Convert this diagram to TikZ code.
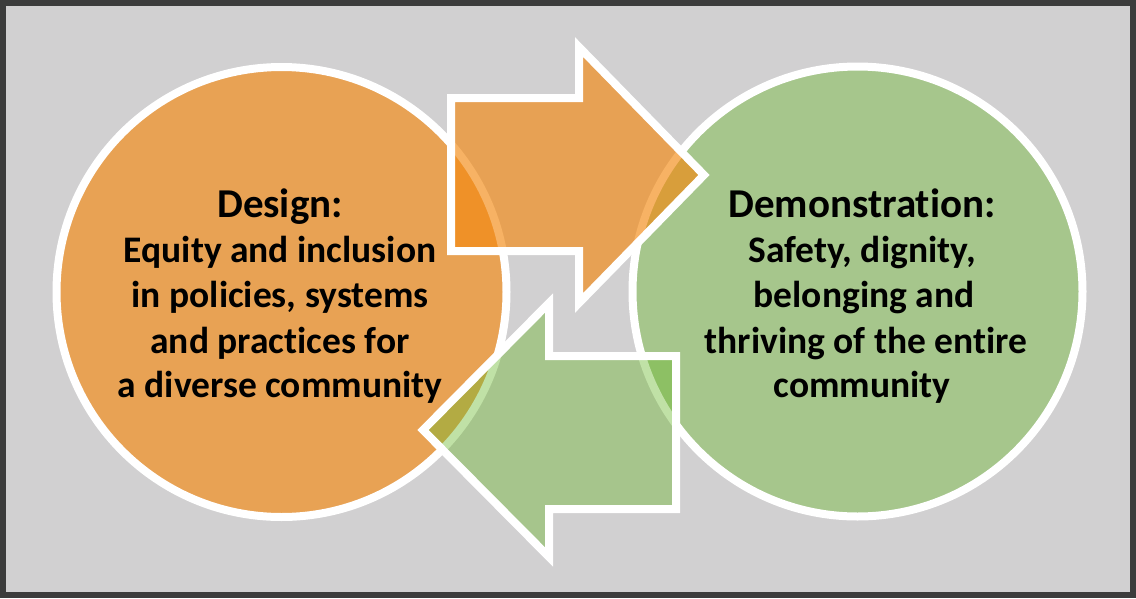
\documentclass[tikz,border=0pt]{standalone}
\usepackage{fontspec}
\setmainfont{Carlito}[Ligatures=NoCommon]
\definecolor{frameC}{HTML}{3C3C3C}
\definecolor{bgC}{HTML}{D1D0D1}
\definecolor{orangeC}{HTML}{E8A254}
\definecolor{greenC}{HTML}{A6C68C}
\definecolor{orangeA}{HTML}{F48911}
\definecolor{greenA}{HTML}{6BB82D}
\begin{document}
\begin{tikzpicture}[x=1pt,y=-1pt,
  ring/.style={circle, draw=white, line width=8pt, minimum size=450pt, inner sep=0pt},
  arrowshape/.style={draw=white, line width=8pt, line join=miter, miter limit=20},
  titletext/.style={anchor=base, font=\bfseries\fontsize{41}{44}\selectfont, inner sep=0pt},
  bodytext/.style={anchor=base, font=\bfseries\fontsize{37.5}{40}\selectfont, inner sep=0pt}]
\useasboundingbox (0,0) rectangle (1136,598);
\fill[frameC] (0,0) rectangle (1136,598);
\fill[bgC] (6,6) rectangle (1130,592);
% circles
\node[ring, fill=orangeC] (design) at (281.5,292) {};
\node[ring, fill=greenC] (demo) at (857.5,291.5) {};
% arrows
\draw[arrowshape, fill=orangeA, fill opacity=0.65]
  (451,98) -- (579,98) -- (579,47) -- (704,175) -- (579,303) -- (579,251) -- (451,251) -- cycle;
\draw[arrowshape, fill=greenA, fill opacity=0.42]
  (423,430) -- (549,303) -- (549,356) -- (676,356) -- (676,509) -- (549,509) -- (549,557) -- cycle;
% texts
\node[titletext] (d0) at (280,217) {Design:};
\node[bodytext] (d1) at (280,262.5) {Equity and inclusion};
\node[bodytext] (d2) at (280,307.5) {in policies, systems};
\node[bodytext] (d3) at (280,353) {and practices for};
\node[bodytext] (d4) at (280,397.5) {a diverse community};
\node[titletext] (m0) at (862,217) {Demonstration:};
\node[bodytext] (m1) at (862,262.5) {Safety, dignity,};
\node[bodytext] (m2) at (864,307.5) {belonging and};
\node[bodytext] (m3) at (866,353) {thriving of the entire};
\node[bodytext] (m4) at (862,397.5) {community};
\end{tikzpicture}
\end{document}
